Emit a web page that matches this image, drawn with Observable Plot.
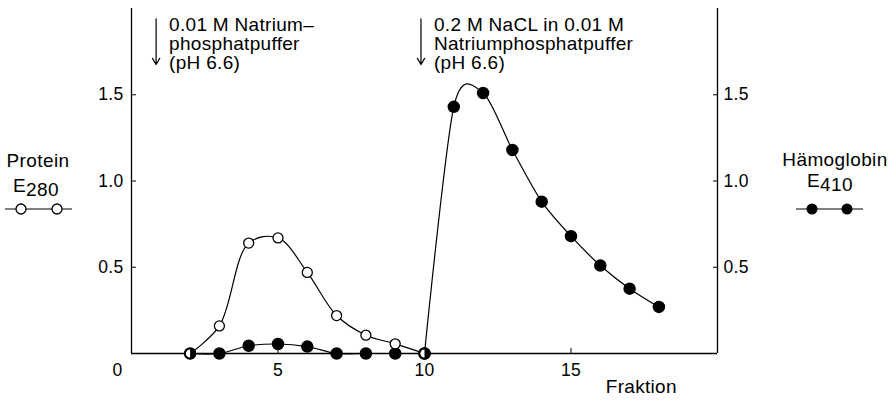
<!DOCTYPE html>
<html>
<head>
<meta charset="utf-8">
<script src="https://cdn.jsdelivr.net/npm/d3@7"></script>
<script src="https://cdn.jsdelivr.net/npm/@observablehq/plot@0.6"></script>
<style>
  html, body { margin: 0; padding: 0; background: white; }
  #wrap { position: relative; width: 894px; height: 401px; }
  #legend { position: absolute; left: 0; top: 0; pointer-events: none; }
  #legend text { font-family: "Liberation Sans", Arial, sans-serif; font-size: 19px; fill: black; letter-spacing: 0.4px; }
</style>
</head>
<body>
<div id="wrap"></div>
<script>
// ---- data ----
const proteinFractions = [2, 3, 4, 5, 6, 7, 8, 9, 10];
const proteinE280 = [0, 0.16, 0.64, 0.67, 0.47, 0.22, 0.106, 0.056, 0];

const hbEarlyFractions = [2, 3, 4, 5, 6, 7, 8, 9, 10];
const hbEarlyE410 = [0, 0, 0.045, 0.055, 0.04, 0, 0, 0, 0];

const hbLateFractions = [10, 11, 12, 13, 14, 15, 16, 17, 18];
const hbLateE410 = [0, 1.43, 1.51, 1.18, 0.88, 0.68, 0.51, 0.376, 0.27];

const xTicks = [5, 10, 15];
const yTicks = [0.5, 1.0, 1.5];

const annotationX = [0.84, 9.88];
const annotationText = [
  "0.01 M Natrium\u2013\nphosphatpuffer\n(pH 6.6)",
  "0.2 M NaCL in 0.01 M\nNatriumphosphatpuffer\n(pH 6.6)"
];
const annotationTextTop = 1.945;
const arrowTop = 1.94;
const arrowBottom = 1.675;

// ---- tables ----
const protein = proteinFractions.map((x, i) => ({x, y: proteinE280[i]}));
const hbEarly = hbEarlyFractions.map((x, i) => ({x, y: hbEarlyE410[i]}));
const hbLate = hbLateFractions.map((x, i) => ({x, y: hbLateE410[i]}));
const hb = [...hbEarly, ...hbLate];
const overlap = protein.filter(p => hb.some(h => h.x === p.x && h.y === p.y));
const annotations = annotationX.map((x, i) => ({x, label: annotationText[i]}));

const halfRight = {
  draw(context, size) {
    const r = Math.sqrt(size / Math.PI);
    context.moveTo(0, -r);
    context.arc(0, 0, r, -Math.PI / 2, Math.PI / 2, false);
    context.closePath();
  }
};

const fmt = d3.format(".1f");

const chart = Plot.plot({
  width: 894,
  height: 401,
  marginLeft: 131,
  marginRight: 177,
  marginTop: 8,
  marginBottom: 48,
  style: {fontFamily: "'Liberation Sans', Arial, sans-serif", fontSize: "17px", color: "black", background: "white", overflow: "visible", letterSpacing: "0.3px"},
  x: {domain: [0, 20]},
  y: {domain: [0, 2]},
  marks: [
    Plot.ruleX([0, 20], {stroke: "black", strokeWidth: 1.3}),
    Plot.ruleY([0], {stroke: "black", strokeWidth: 1.3}),
    Plot.axisY(yTicks, {anchor: "left", tickSize: -5, tickPadding: 13, tickFormat: fmt, label: null, fontSize: 17.5}),
    Plot.axisY(yTicks, {anchor: "right", tickSize: -5, tickPadding: 11, tickFormat: fmt, label: null, fontSize: 17.5}),
    Plot.axisX(xTicks, {anchor: "bottom", tickSize: -5, tickPadding: 15, label: null, fontSize: 17.5}),
    Plot.text(["0"], {x: 0, y: 0, text: d => d, dx: -14, dy: 10, lineAnchor: "top", fontSize: 17.5}),
    Plot.text(["Fraktion"], {x: 17.4, y: 0, text: d => d, dy: 33, fontSize: 19}),
    Plot.line(protein, {x: "x", y: "y", curve: "catmull-rom", stroke: "black", strokeWidth: 1.2}),
    Plot.line(hbEarly, {x: "x", y: "y", curve: "catmull-rom", stroke: "black", strokeWidth: 1.2}),
    Plot.line(hbLate, {x: "x", y: "y", curve: "cardinal", tension: 0.15, stroke: "black", strokeWidth: 1.2}),
    Plot.dot(hb, {x: "x", y: "y", r: 5.5, fill: "black", stroke: "black"}),
    Plot.dot(protein, {x: "x", y: "y", r: 5, fill: "white", stroke: "black", strokeWidth: 1.3}),
    Plot.dot(overlap, {x: "x", y: "y", r: 5, symbol: halfRight, fill: "black", stroke: "none"}),
    Plot.dot(overlap, {x: "x", y: "y", r: 5, fill: "none", stroke: "black", strokeWidth: 1.3}),
    Plot.arrow(annotations, {x1: "x", x2: "x", y1: arrowTop, y2: arrowBottom, stroke: "black", strokeWidth: 1.2, headLength: 9}),
    Plot.text(annotations, {x: "x", y: annotationTextTop, text: "label", textAnchor: "start", lineAnchor: "top", dx: 13, fontSize: 19, lineHeight: 1.0})
  ]
});

const wrap = document.getElementById("wrap");
wrap.appendChild(chart);

// side legends
const ns = "http://www.w3.org/2000/svg";
const legend = document.createElementNS(ns, "svg");
legend.setAttribute("id", "legend");
legend.setAttribute("width", 894);
legend.setAttribute("height", 401);
legend.innerHTML = `
  <text x="38" y="167" text-anchor="middle">Protein</text>
  <text x="13" y="192">E<tspan dy="4">280</tspan></text>
  <line x1="5" x2="72" y1="209" y2="209" stroke="black" stroke-width="1.2"/>
  <circle cx="21" cy="209" r="5" fill="white" stroke="black" stroke-width="1.3"/>
  <circle cx="57" cy="209" r="5" fill="white" stroke="black" stroke-width="1.3"/>
  <text x="835" y="166" text-anchor="middle">Hämoglobin</text>
  <text x="807" y="187">E<tspan dy="4">410</tspan></text>
  <line x1="796" x2="863" y1="209" y2="209" stroke="black" stroke-width="1.2"/>
  <circle cx="812" cy="209" r="5.5" fill="black"/>
  <circle cx="847" cy="209" r="5.5" fill="black"/>
`;
wrap.appendChild(legend);
</script>
</body>
</html>
